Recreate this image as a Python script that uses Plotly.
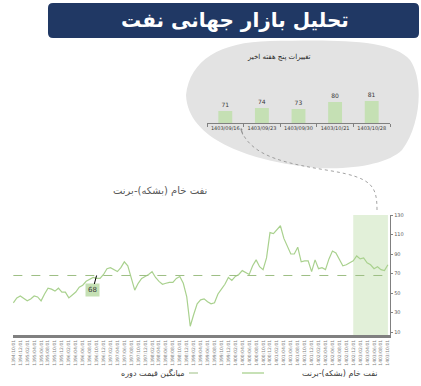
import plotly.graph_objects as go

W, H = 421, 386

# ---------------- data ----------------
dates = [
    "1394/10/01", "1394/11/01", "1394/12/01",
    "1395/01/01", "1395/02/01", "1395/03/01", "1395/04/01", "1395/05/01", "1395/06/01",
    "1395/07/01", "1395/08/01", "1395/09/01", "1395/10/01", "1395/11/01", "1395/12/01",
    "1396/01/01", "1396/02/01", "1396/03/01", "1396/04/01", "1396/05/01", "1396/06/01",
    "1396/07/01", "1396/08/01", "1396/09/01", "1396/10/01", "1396/11/01", "1396/12/01",
    "1397/01/01", "1397/02/01", "1397/03/01", "1397/04/01", "1397/05/01", "1397/06/01",
    "1397/07/01", "1397/08/01", "1397/09/01", "1397/10/01", "1397/11/01", "1397/12/01",
    "1398/01/01", "1398/02/01", "1398/03/01", "1398/04/01", "1398/05/01", "1398/06/01",
    "1398/07/01", "1398/08/01", "1398/09/01", "1398/10/01", "1398/11/01", "1398/12/01",
    "1399/01/01", "1399/02/01", "1399/03/01", "1399/04/01", "1399/05/01", "1399/06/01",
    "1399/07/01", "1399/08/01", "1399/09/01", "1399/10/01", "1399/11/01", "1399/12/01",
    "1400/01/01", "1400/02/01", "1400/03/01", "1400/04/01", "1400/05/01", "1400/06/01",
    "1400/07/01", "1400/08/01", "1400/09/01", "1400/10/01", "1400/11/01", "1400/12/01",
    "1401/01/01", "1401/02/01", "1401/03/01", "1401/04/01", "1401/05/01", "1401/06/01",
    "1401/07/01", "1401/08/01", "1401/09/01", "1401/10/01", "1401/11/01", "1401/12/01",
    "1402/01/01", "1402/02/01", "1402/03/01", "1402/04/01", "1402/05/01", "1402/06/01",
    "1402/07/01", "1402/08/01", "1402/09/01", "1402/10/01", "1402/11/01", "1402/12/01",
    "1403/01/01", "1403/02/01", "1403/03/01", "1403/04/01", "1403/05/01", "1403/06/01",
    "1403/07/01", "1403/08/01", "1403/09/01", "1403/10/01",
]

brent = [
    40, 45, 47, 44, 42, 44, 47, 46, 42, 49, 55, 54,
    52, 55, 51, 51, 45, 48, 51, 56, 58, 62, 64, 66,
    65, 65, 69, 75, 76, 74, 72, 76, 82, 78, 64, 53,
    60, 65, 67, 69, 72, 66, 62, 59, 60, 61, 61, 65,
    67, 60, 46, 16, 28, 39, 43, 44, 41, 39, 40, 49,
    54, 59, 66, 63, 67, 69, 73, 71, 69, 78, 84, 77,
    74, 86, 112, 111, 115, 119, 106, 97, 90, 90, 97, 82,
    83, 83, 72, 84, 75, 76, 74, 85, 93, 91, 84, 78,
    79, 81, 83, 88, 85, 86, 81, 79, 75, 77, 74, 73, 79,
]

average_price = 68
average_label_date = "1396/10/01"
shade_start, shade_end = "1402/12/01", "1403/10/01"

y_ticks = [10, 30, 50, 70, 90, 110, 130]

week_labels = ["1403/09/16", "1403/09/23", "1403/09/30", "1403/10/21", "1403/10/28"]
week_values = [71, 74, 73, 80, 81]

title_text = "تحلیل بازار جهانی نفت"
series_name = "نفت خام (بشکه)-برنت"
avg_name = "میانگین قیمت دوره"
inset_title = "تغییرات پنج هفته اخیر"

# ---------------- helpers (pixel -> paper) ----------------
def px(x):
    return x / W

def py(y):
    return 1 - y / H

def path_from(cmds):
    out = []
    for c in cmds:
        if isinstance(c, str):
            out.append(c)
        else:
            out.append(f"{px(c[0]):.5f},{py(c[1]):.5f}")
    return " ".join(out)

FONT = "DejaVu Sans, Arial, sans-serif"
LINE_GREEN = "#A9D18E"
BAR_GREEN = "#C5E0B4"
SHADE = "#E2F0D9"
GRAY = "#7F7F7F"
TXT = "#3A3A3A"

fig = go.Figure()

fig.add_trace(go.Scatter(
    x=dates, y=brent, mode="lines", name=series_name,
    line=dict(color=LINE_GREEN, width=1.2), xaxis="x", yaxis="y",
    showlegend=False, hoverinfo="skip",
))
fig.add_trace(go.Scatter(
    x=dates, y=[average_price] * len(dates), mode="lines", name=avg_name,
    line=dict(color="#9DBF84", width=1, dash="dash"), xaxis="x", yaxis="y",
    showlegend=False, hoverinfo="skip",
))
fig.add_trace(go.Bar(
    x=week_labels, y=week_values, marker=dict(color=BAR_GREEN, line=dict(width=0)),
    text=[str(v) for v in week_values], textposition="outside",
    textfont=dict(size=6, color=TXT, family=FONT),
    outsidetextfont=dict(size=6, color=TXT, family=FONT),
    cliponaxis=False, xaxis="x2", yaxis="y2", showlegend=False, hoverinfo="skip",
))

shapes = []
r = 5
x0, x1, y0, y1 = 48, 419, 3, 38
shapes.append(dict(
    type="path", xref="paper", yref="paper", layer="below",
    path=path_from(["M", (x0 + r, y0), "L", (x1 - r, y0), "Q", (x1, y0), (x1, y0 + r),
                    "L", (x1, y1 - r), "Q", (x1, y1), (x1 - r, y1), "L", (x0 + r, y1),
                    "Q", (x0, y1), (x0, y1 - r), "L", (x0, y0 + r), "Q", (x0, y0), (x0 + r, y0), "Z"]),
    fillcolor="#203864", line=dict(width=0),
))
shapes.append(dict(
    type="path", xref="paper", yref="paper", layer="below",
    path=path_from(["M", (186, 95), "C", (190, 60), (220, 42), (270, 41),
                    "C", (330, 40), (392, 38), (410, 60),
                    "C", (424, 80), (421, 125), (402, 150),
                    "C", (386, 166), (340, 172), (300, 166),
                    "C", (250, 159), (188, 140), (186, 95), "Z"]),
    fillcolor="#E3E3E3", line=dict(width=0),
))
shapes.append(dict(
    type="path", xref="paper", yref="paper", layer="above",
    path=path_from(["M", (377, 210), "C", (377, 186), (372, 178), (332, 171),
                    "C", (290, 164), (252, 158), (241, 130)]),
    line=dict(color="#8C8C8C", width=0.8, dash="dot"),
))
shapes.append(dict(
    type="rect", xref="x", yref="y domain", x0=shade_start, x1=shade_end, y0=0, y1=1,
    fillcolor=SHADE, line=dict(width=0), layer="below",
))
shapes.append(dict(type="line", xref="paper", yref="paper",
                   x0=px(189), x1=px(207), y0=py(373), y1=py(373),
                   line=dict(color="#9DBF84", width=1, dash="dash")))
shapes.append(dict(type="line", xref="paper", yref="paper",
                   x0=px(242), x1=px(264), y0=py(373), y1=py(373),
                   line=dict(color=LINE_GREEN, width=1.3)))

annotations = [
    dict(text=f"<b>{title_text}</b>", xref="paper", yref="paper", x=px(235), y=py(20),
         showarrow=False, font=dict(size=20, color="white", family=FONT),
         xanchor="center", yanchor="middle"),
    dict(text=inset_title, xref="paper", yref="paper", x=px(279), y=py(57),
         showarrow=False, font=dict(size=7, color="#262626", family=FONT),
         xanchor="center", yanchor="middle"),
    dict(text=series_name, xref="paper", yref="paper", x=px(160), y=py(190),
         showarrow=False, font=dict(size=10, color="#595959", family=FONT),
         xanchor="center", yanchor="middle"),
    dict(text=str(average_price), xref="x", yref="y", x=average_label_date, y=average_price,
         showarrow=True, ax=-4, ay=15, arrowhead=0, arrowwidth=1, arrowcolor="#000000",
         bgcolor=BAR_GREEN, borderpad=2, font=dict(size=7, color=TXT, family=FONT)),
    dict(text="", xref="paper", yref="paper", x=px(241), y=py(128), ax=2, ay=8,
         showarrow=True, arrowhead=2, arrowsize=0.6, arrowwidth=0.8, arrowcolor="#8C8C8C"),
    dict(text=avg_name, xref="paper", yref="paper", x=px(187), y=py(373),
         showarrow=False, font=dict(size=8, color=TXT, family=FONT),
         xanchor="right", yanchor="middle"),
    dict(text=series_name, xref="paper", yref="paper", x=px(300), y=py(373),
         showarrow=False, font=dict(size=8, color=TXT, family=FONT),
         xanchor="left", yanchor="middle"),
]

fig.update_layout(
    width=W, height=H, autosize=False,
    margin=dict(l=0, r=0, t=0, b=0, pad=0),
    paper_bgcolor="white", plot_bgcolor="rgba(0,0,0,0)",
    showlegend=False, bargap=0.62, hovermode=False,
    shapes=shapes, annotations=annotations,
    xaxis=dict(
        domain=[px(13), px(390)], type="category", range=[-0.1, len(dates) - 0.4],
        tickmode="linear", tick0=0, dtick=2, tickangle=-90, automargin=False,
        tickfont=dict(size=4.5, color=GRAY, family=FONT),
        showline=True, linecolor="#808080", linewidth=3,
        showgrid=False, zeroline=False, ticks="", anchor="y",
    ),
    yaxis=dict(
        domain=[py(335), py(215)], range=[7, 130], side="right", automargin=False,
        tickmode="array", tickvals=y_ticks, ticktext=[str(v) for v in y_ticks],
        tickfont=dict(size=5, color="#595959", family=FONT),
        showline=True, linecolor="#808080", linewidth=1.2,
        ticks="outside", ticklen=2, tickcolor="#808080",
        showgrid=False, zeroline=False, anchor="x",
    ),
    xaxis2=dict(
        domain=[px(207), px(390)], type="category", anchor="y2", automargin=False,
        tickangle=0, tickfont=dict(size=5, color=TXT, family=FONT),
        showline=True, linecolor="#808080", linewidth=1,
        ticks="outside", tickson="boundaries", ticklen=3, tickcolor="#808080",
        showgrid=False, zeroline=False,
    ),
    yaxis2=dict(
        domain=[py(123), py(63)], range=[59, 119], anchor="x2", automargin=False,
        visible=False, showgrid=False, zeroline=False,
    ),
)

fig.write_html(
    "out.html",
    config={"displayModeBar": False, "staticPlot": True},
    post_script="document.body.style.margin='0';document.body.style.overflow='hidden';",
)
